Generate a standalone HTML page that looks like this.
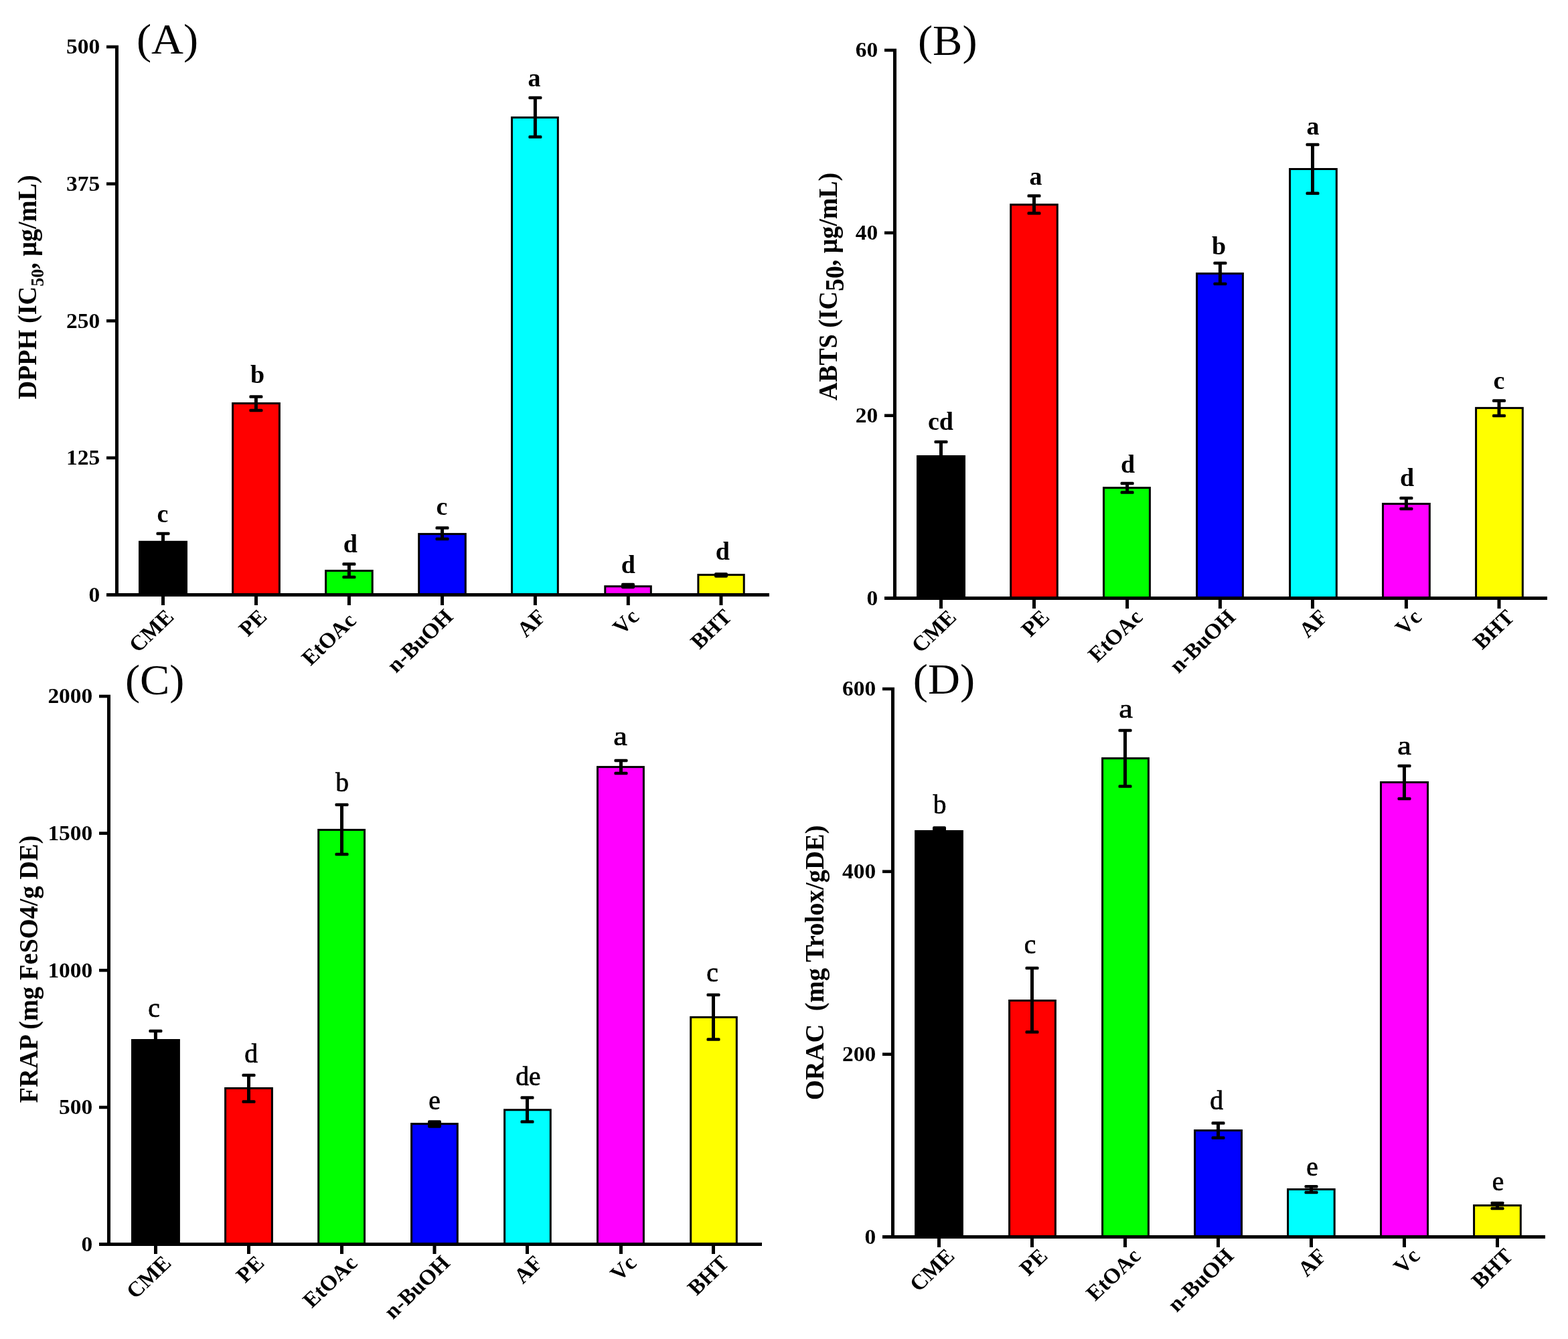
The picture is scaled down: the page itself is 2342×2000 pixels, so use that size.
<!DOCTYPE html>
<html><head><meta charset="utf-8"><title>Antioxidant activity bar charts</title>
<style>
html,body{margin:0;padding:0;background:#fff;}
svg{display:block;}
text{font-family:'Liberation Serif','Times New Roman',serif;fill:#000;}
.tk{font-size:32px;font-weight:bold;}
.xl{font-size:32px;font-weight:bold;}
.lb{font-size:38px;font-weight:bold;}
.lr{font-size:39.5px;font-weight:normal;stroke:#000;stroke-width:0.7px;}
.pl{font-size:63px;font-weight:normal;}
.tt{font-size:38.3px;font-weight:bold;white-space:pre;}
</style></head>
<body>
<svg width="2342" height="2000" viewBox="0 0 2342 2000">
<rect width="2342" height="2000" fill="#fff"/>
<rect x="207" y="807.8" width="73" height="78.7" fill="#000"/>
<rect x="346.1" y="601" width="72.8" height="285.5" fill="#000"/>
<rect x="349.1" y="604" width="66.8" height="282.5" fill="#FF0000"/>
<rect x="485.1" y="851" width="72.6" height="35.5" fill="#000"/>
<rect x="488.1" y="854" width="66.6" height="32.5" fill="#00FF00"/>
<rect x="624.2" y="796.1" width="72.6" height="90.4" fill="#000"/>
<rect x="627.2" y="799.1" width="66.6" height="87.4" fill="#0000FF"/>
<rect x="763" y="174" width="71.8" height="712.5" fill="#000"/>
<rect x="766" y="177" width="65.8" height="709.5" fill="#00FFFF"/>
<rect x="902.3" y="874.3" width="71.5" height="12.2" fill="#000"/>
<rect x="905.3" y="877.3" width="65.5" height="9.2" fill="#FF00FF"/>
<rect x="1041.4" y="857.1" width="71.3" height="29.4" fill="#000"/>
<rect x="1044.4" y="860.1" width="65.3" height="26.4" fill="#FFFF00"/>
<rect x="241" y="796.9" width="5" height="21.8" fill="#000"/>
<rect x="233.5" y="794.65" width="20" height="4.5" rx="1.5" fill="#000"/>
<rect x="233.5" y="816.45" width="20" height="4.5" rx="1.5" fill="#000"/>
<rect x="379.9" y="592.5" width="5" height="20.5" fill="#000"/>
<rect x="372.4" y="590.25" width="20" height="4.5" rx="1.5" fill="#000"/>
<rect x="372.4" y="610.75" width="20" height="4.5" rx="1.5" fill="#000"/>
<rect x="518.9" y="842.4" width="5" height="19.6" fill="#000"/>
<rect x="511.4" y="840.15" width="20" height="4.5" rx="1.5" fill="#000"/>
<rect x="511.4" y="859.75" width="20" height="4.5" rx="1.5" fill="#000"/>
<rect x="658" y="788.4" width="5" height="16.6" fill="#000"/>
<rect x="650.5" y="786.15" width="20" height="4.5" rx="1.5" fill="#000"/>
<rect x="650.5" y="802.75" width="20" height="4.5" rx="1.5" fill="#000"/>
<rect x="796.9" y="145.9" width="5" height="58.5" fill="#000"/>
<rect x="789.4" y="143.65" width="20" height="4.5" rx="1.5" fill="#000"/>
<rect x="789.4" y="202.15" width="20" height="4.5" rx="1.5" fill="#000"/>
<rect x="928" y="870.75" width="20" height="8.5" rx="2" fill="#000"/>
<rect x="1067" y="855.25" width="20" height="7.5" rx="2" fill="#000"/>
<rect x="172" y="68" width="5" height="823" fill="#000"/>
<rect x="159" y="886" width="990" height="5" fill="#000"/>
<rect x="159" y="67.7" width="18" height="4.6" fill="#000"/>
<text transform="translate(149.2 80.48) scale(1.046 1)" text-anchor="end" class="tk">500</text>
<rect x="159" y="272.3" width="18" height="4.6" fill="#000"/>
<text transform="translate(149.2 285.08) scale(1.046 1)" text-anchor="end" class="tk">375</text>
<rect x="159" y="476.95" width="18" height="4.6" fill="#000"/>
<text transform="translate(149.2 489.73) scale(1.046 1)" text-anchor="end" class="tk">250</text>
<rect x="159" y="681.6" width="18" height="4.6" fill="#000"/>
<text transform="translate(149.2 694.38) scale(1.046 1)" text-anchor="end" class="tk">125</text>
<rect x="159" y="886.2" width="18" height="4.6" fill="#000"/>
<text transform="translate(149.2 898.98) scale(1.046 1)" text-anchor="end" class="tk">0</text>
<rect x="241" y="890.5" width="5" height="13.5" fill="#000"/>
<text transform="translate(261.5 923.2) scale(1.047 1) rotate(-45)" text-anchor="end" class="xl">CME</text>
<rect x="380" y="890.5" width="5" height="13.5" fill="#000"/>
<text transform="translate(400.5 923.2) scale(1.047 1) rotate(-45)" text-anchor="end" class="xl">PE</text>
<rect x="518.9" y="890.5" width="5" height="13.5" fill="#000"/>
<text transform="translate(533.74 928.86) scale(1.047 1) rotate(-45)" text-anchor="end" class="xl">EtOAc</text>
<rect x="658" y="890.5" width="5" height="13.5" fill="#000"/>
<text transform="translate(678.5 923.2) scale(1.047 1) rotate(-45)" text-anchor="end" class="xl">n-BuOH</text>
<rect x="796.9" y="890.5" width="5" height="13.5" fill="#000"/>
<text transform="translate(817.4 923.2) scale(1.047 1) rotate(-45)" text-anchor="end" class="xl">AF</text>
<rect x="935.8" y="890.5" width="5" height="13.5" fill="#000"/>
<text transform="translate(956.3 923.2) scale(1.047 1) rotate(-45)" text-anchor="end" class="xl">Vc</text>
<rect x="1074.5" y="890.5" width="5" height="13.5" fill="#000"/>
<text transform="translate(1095 923.2) scale(1.047 1) rotate(-45)" text-anchor="end" class="xl">BHT</text>
<text x="243" y="779.5" text-anchor="middle" class="lb">c</text>
<text x="384.5" y="571.8" text-anchor="middle" class="lb">b</text>
<text x="523.2" y="824.7" text-anchor="middle" class="lb">d</text>
<text x="660" y="768.7" text-anchor="middle" class="lb">c</text>
<text x="797.9" y="128.7" text-anchor="middle" class="lb">a</text>
<text x="938.3" y="855.8" text-anchor="middle" class="lb">d</text>
<text x="1079.3" y="836.3" text-anchor="middle" class="lb">d</text>
<text transform="translate(203.98 79.9) scale(1.055 1)" class="pl">(A)</text>
<rect x="1369" y="680" width="73" height="211.5" fill="#000"/>
<rect x="1508.2" y="304.2" width="72.6" height="587.3" fill="#000"/>
<rect x="1511.2" y="307.2" width="66.6" height="584.3" fill="#FF0000"/>
<rect x="1647" y="727.1" width="71.9" height="164.4" fill="#000"/>
<rect x="1650" y="730.1" width="65.9" height="161.4" fill="#00FF00"/>
<rect x="1786.1" y="407.1" width="71.8" height="484.4" fill="#000"/>
<rect x="1789.1" y="410.1" width="65.8" height="481.4" fill="#0000FF"/>
<rect x="1925.1" y="251" width="72.7" height="640.5" fill="#000"/>
<rect x="1928.1" y="254" width="66.7" height="637.5" fill="#00FFFF"/>
<rect x="2064" y="751" width="72.8" height="140.5" fill="#000"/>
<rect x="2067" y="754" width="66.8" height="137.5" fill="#FF00FF"/>
<rect x="2203.1" y="607.9" width="72.7" height="283.6" fill="#000"/>
<rect x="2206.1" y="610.9" width="66.7" height="280.6" fill="#FFFF00"/>
<rect x="1403" y="659.9" width="5" height="40.2" fill="#000"/>
<rect x="1395.5" y="657.65" width="20" height="4.5" rx="1.5" fill="#000"/>
<rect x="1395.5" y="697.85" width="20" height="4.5" rx="1.5" fill="#000"/>
<rect x="1542" y="292.4" width="5" height="26" fill="#000"/>
<rect x="1534.5" y="290.15" width="20" height="4.5" rx="1.5" fill="#000"/>
<rect x="1534.5" y="316.15" width="20" height="4.5" rx="1.5" fill="#000"/>
<rect x="1681.1" y="721.9" width="5" height="13.5" fill="#000"/>
<rect x="1673.6" y="719.65" width="20" height="4.5" rx="1.5" fill="#000"/>
<rect x="1673.6" y="733.15" width="20" height="4.5" rx="1.5" fill="#000"/>
<rect x="1819.9" y="393" width="5" height="31" fill="#000"/>
<rect x="1812.4" y="390.75" width="20" height="4.5" rx="1.5" fill="#000"/>
<rect x="1812.4" y="421.75" width="20" height="4.5" rx="1.5" fill="#000"/>
<rect x="1958" y="216" width="5" height="72.8" fill="#000"/>
<rect x="1950.5" y="213.75" width="20" height="4.5" rx="1.5" fill="#000"/>
<rect x="1950.5" y="286.55" width="20" height="4.5" rx="1.5" fill="#000"/>
<rect x="2097.9" y="744" width="5" height="16" fill="#000"/>
<rect x="2090.4" y="741.75" width="20" height="4.5" rx="1.5" fill="#000"/>
<rect x="2090.4" y="757.75" width="20" height="4.5" rx="1.5" fill="#000"/>
<rect x="2236.5" y="598.5" width="5" height="22.5" fill="#000"/>
<rect x="2229" y="596.25" width="20" height="4.5" rx="1.5" fill="#000"/>
<rect x="2229" y="618.75" width="20" height="4.5" rx="1.5" fill="#000"/>
<rect x="1334" y="73" width="5" height="823" fill="#000"/>
<rect x="1321" y="891" width="990" height="5" fill="#000"/>
<rect x="1321" y="72.7" width="18" height="4.6" fill="#000"/>
<text transform="translate(1311.2 85.48) scale(1.046 1)" text-anchor="end" class="tk">60</text>
<rect x="1321" y="345.5" width="18" height="4.6" fill="#000"/>
<text transform="translate(1311.2 358.28) scale(1.046 1)" text-anchor="end" class="tk">40</text>
<rect x="1321" y="618.4" width="18" height="4.6" fill="#000"/>
<text transform="translate(1311.2 631.18) scale(1.046 1)" text-anchor="end" class="tk">20</text>
<rect x="1321" y="891.2" width="18" height="4.6" fill="#000"/>
<text transform="translate(1311.2 903.98) scale(1.046 1)" text-anchor="end" class="tk">0</text>
<rect x="1403" y="895.5" width="5" height="13.5" fill="#000"/>
<text transform="translate(1430.3 923.8) scale(1.047 1) rotate(-45)" text-anchor="end" class="xl">CME</text>
<rect x="1542" y="895.5" width="5" height="13.5" fill="#000"/>
<text transform="translate(1569.3 923.8) scale(1.047 1) rotate(-45)" text-anchor="end" class="xl">PE</text>
<rect x="1681.1" y="895.5" width="5" height="13.5" fill="#000"/>
<text transform="translate(1708.4 923.8) scale(1.047 1) rotate(-45)" text-anchor="end" class="xl">EtOAc</text>
<rect x="1819.9" y="895.5" width="5" height="13.5" fill="#000"/>
<text transform="translate(1847.2 923.8) scale(1.047 1) rotate(-45)" text-anchor="end" class="xl">n-BuOH</text>
<rect x="1958" y="895.5" width="5" height="13.5" fill="#000"/>
<text transform="translate(1985.3 923.8) scale(1.047 1) rotate(-45)" text-anchor="end" class="xl">AF</text>
<rect x="2097.9" y="895.5" width="5" height="13.5" fill="#000"/>
<text transform="translate(2125.2 923.8) scale(1.047 1) rotate(-45)" text-anchor="end" class="xl">Vc</text>
<rect x="2236.5" y="895.5" width="5" height="13.5" fill="#000"/>
<text transform="translate(2263.8 923.8) scale(1.047 1) rotate(-45)" text-anchor="end" class="xl">BHT</text>
<text x="1405" y="641.7" text-anchor="middle" class="lb">cd</text>
<text x="1547" y="275.7" text-anchor="middle" class="lb">a</text>
<text x="1684.6" y="705.7" text-anchor="middle" class="lb">d</text>
<text x="1820.5" y="379.7" text-anchor="middle" class="lb">b</text>
<text x="1961" y="200.7" text-anchor="middle" class="lb">a</text>
<text x="2101.5" y="725.7" text-anchor="middle" class="lb">d</text>
<text x="2239" y="580.7" text-anchor="middle" class="lb">c</text>
<text transform="translate(1370.98 81.9) scale(1.055 1)" class="pl">(B)</text>
<rect x="196" y="1552" width="72.9" height="304.5" fill="#000"/>
<rect x="335.1" y="1624" width="72.8" height="232.5" fill="#000"/>
<rect x="338.1" y="1627" width="66.8" height="229.5" fill="#FF0000"/>
<rect x="474.2" y="1238" width="71.8" height="618.5" fill="#000"/>
<rect x="477.2" y="1241" width="65.8" height="615.5" fill="#00FF00"/>
<rect x="613.1" y="1677.1" width="71.7" height="179.4" fill="#000"/>
<rect x="616.1" y="1680.1" width="65.7" height="176.4" fill="#0000FF"/>
<rect x="752.1" y="1656.3" width="71.7" height="200.2" fill="#000"/>
<rect x="755.1" y="1659.3" width="65.7" height="197.2" fill="#00FFFF"/>
<rect x="891" y="1144.1" width="71.9" height="712.4" fill="#000"/>
<rect x="894" y="1147.1" width="65.9" height="709.4" fill="#FF00FF"/>
<rect x="1030.2" y="1517.9" width="71.6" height="338.6" fill="#000"/>
<rect x="1033.2" y="1520.9" width="65.6" height="335.6" fill="#FFFF00"/>
<rect x="229.9" y="1539.9" width="5" height="24.2" fill="#000"/>
<rect x="222.4" y="1537.65" width="20" height="4.5" rx="1.5" fill="#000"/>
<rect x="222.4" y="1561.85" width="20" height="4.5" rx="1.5" fill="#000"/>
<rect x="369" y="1606" width="5" height="39.5" fill="#000"/>
<rect x="361.5" y="1603.75" width="20" height="4.5" rx="1.5" fill="#000"/>
<rect x="361.5" y="1643.25" width="20" height="4.5" rx="1.5" fill="#000"/>
<rect x="508" y="1202" width="5" height="74" fill="#000"/>
<rect x="500.5" y="1199.75" width="20" height="4.5" rx="1.5" fill="#000"/>
<rect x="500.5" y="1273.75" width="20" height="4.5" rx="1.5" fill="#000"/>
<rect x="639" y="1673.25" width="20" height="11.5" rx="2" fill="#000"/>
<rect x="785" y="1639.4" width="5" height="36.1" fill="#000"/>
<rect x="777.5" y="1637.15" width="20" height="4.5" rx="1.5" fill="#000"/>
<rect x="777.5" y="1673.25" width="20" height="4.5" rx="1.5" fill="#000"/>
<rect x="925" y="1136" width="5" height="19" fill="#000"/>
<rect x="917.5" y="1133.75" width="20" height="4.5" rx="1.5" fill="#000"/>
<rect x="917.5" y="1152.75" width="20" height="4.5" rx="1.5" fill="#000"/>
<rect x="1063" y="1486" width="5" height="66.5" fill="#000"/>
<rect x="1055.5" y="1483.75" width="20" height="4.5" rx="1.5" fill="#000"/>
<rect x="1055.5" y="1550.25" width="20" height="4.5" rx="1.5" fill="#000"/>
<rect x="160" y="1038" width="5" height="823" fill="#000"/>
<rect x="148" y="1856" width="990" height="5" fill="#000"/>
<rect x="148" y="1037.7" width="17" height="4.6" fill="#000"/>
<text transform="translate(138.3 1050.48) scale(1.046 1)" text-anchor="end" class="tk">2000</text>
<rect x="148" y="1242.35" width="17" height="4.6" fill="#000"/>
<text transform="translate(138.3 1255.13) scale(1.046 1)" text-anchor="end" class="tk">1500</text>
<rect x="148" y="1447" width="17" height="4.6" fill="#000"/>
<text transform="translate(138.3 1459.78) scale(1.046 1)" text-anchor="end" class="tk">1000</text>
<rect x="148" y="1651.65" width="17" height="4.6" fill="#000"/>
<text transform="translate(138.3 1664.43) scale(1.046 1)" text-anchor="end" class="tk">500</text>
<rect x="148" y="1856.3" width="17" height="4.6" fill="#000"/>
<text transform="translate(138.3 1869.08) scale(1.046 1)" text-anchor="end" class="tk">0</text>
<rect x="230" y="1860.5" width="5" height="12.5" fill="#000"/>
<text transform="translate(257.5 1888.5) scale(1.047 1) rotate(-45)" text-anchor="end" class="xl">CME</text>
<rect x="369" y="1860.5" width="5" height="12.5" fill="#000"/>
<text transform="translate(396.5 1888.5) scale(1.047 1) rotate(-45)" text-anchor="end" class="xl">PE</text>
<rect x="508" y="1860.5" width="5" height="12.5" fill="#000"/>
<text transform="translate(535.5 1888.5) scale(1.047 1) rotate(-45)" text-anchor="end" class="xl">EtOAc</text>
<rect x="646.5" y="1860.5" width="5" height="12.5" fill="#000"/>
<text transform="translate(674 1888.5) scale(1.047 1) rotate(-45)" text-anchor="end" class="xl">n-BuOH</text>
<rect x="785" y="1860.5" width="5" height="12.5" fill="#000"/>
<text transform="translate(812.5 1888.5) scale(1.047 1) rotate(-45)" text-anchor="end" class="xl">AF</text>
<rect x="925" y="1860.5" width="5" height="12.5" fill="#000"/>
<text transform="translate(952.5 1888.5) scale(1.047 1) rotate(-45)" text-anchor="end" class="xl">Vc</text>
<rect x="1063" y="1860.5" width="5" height="12.5" fill="#000"/>
<text transform="translate(1090.5 1888.5) scale(1.047 1) rotate(-45)" text-anchor="end" class="xl">BHT</text>
<text x="230" y="1518.5" text-anchor="middle" class="lr">c</text>
<text x="375" y="1586.7" text-anchor="middle" class="lr">d</text>
<text x="511" y="1181.5" text-anchor="middle" class="lr">b</text>
<text x="649" y="1656.5" text-anchor="middle" class="lr">e</text>
<text x="788.9" y="1621" text-anchor="middle" class="lr">de</text>
<text transform="translate(926.5 1113) scale(1.18 1)" text-anchor="middle" class="lr">a</text>
<text x="1064" y="1465.5" text-anchor="middle" class="lr">c</text>
<text transform="translate(186.88 1036.6) scale(1.055 1)" class="pl">(C)</text>
<rect x="1366.1" y="1240" width="72.8" height="605.5" fill="#000"/>
<rect x="1506.1" y="1493" width="71.8" height="352.5" fill="#000"/>
<rect x="1509.1" y="1496" width="65.8" height="349.5" fill="#FF0000"/>
<rect x="1645.1" y="1131.2" width="71.8" height="714.3" fill="#000"/>
<rect x="1648.1" y="1134.2" width="65.8" height="711.3" fill="#00FF00"/>
<rect x="1783.1" y="1687" width="72.9" height="158.5" fill="#000"/>
<rect x="1786.1" y="1690" width="66.9" height="155.5" fill="#0000FF"/>
<rect x="1922.1" y="1775" width="72.6" height="70.5" fill="#000"/>
<rect x="1925.1" y="1778" width="66.6" height="67.5" fill="#00FFFF"/>
<rect x="2061" y="1167" width="73" height="678.5" fill="#000"/>
<rect x="2064" y="1170" width="67" height="675.5" fill="#FF00FF"/>
<rect x="2200.1" y="1799" width="72.7" height="46.5" fill="#000"/>
<rect x="2203.1" y="1802" width="66.7" height="43.5" fill="#FFFF00"/>
<rect x="1393" y="1234.15" width="20" height="11.7" rx="2" fill="#000"/>
<rect x="1539" y="1446" width="5" height="95.4" fill="#000"/>
<rect x="1531.5" y="1443.75" width="20" height="4.5" rx="1.5" fill="#000"/>
<rect x="1531.5" y="1539.15" width="20" height="4.5" rx="1.5" fill="#000"/>
<rect x="1678" y="1091" width="5" height="83.6" fill="#000"/>
<rect x="1670.5" y="1088.75" width="20" height="4.5" rx="1.5" fill="#000"/>
<rect x="1670.5" y="1172.35" width="20" height="4.5" rx="1.5" fill="#000"/>
<rect x="1817" y="1677.6" width="5" height="21.9" fill="#000"/>
<rect x="1809.5" y="1675.35" width="20" height="4.5" rx="1.5" fill="#000"/>
<rect x="1809.5" y="1697.25" width="20" height="4.5" rx="1.5" fill="#000"/>
<rect x="1956" y="1772.2" width="5" height="8.8" fill="#000"/>
<rect x="1948.5" y="1769.95" width="20" height="4.5" rx="1.5" fill="#000"/>
<rect x="1948.5" y="1778.75" width="20" height="4.5" rx="1.5" fill="#000"/>
<rect x="2095" y="1144" width="5" height="49" fill="#000"/>
<rect x="2087.5" y="1141.75" width="20" height="4.5" rx="1.5" fill="#000"/>
<rect x="2087.5" y="1190.75" width="20" height="4.5" rx="1.5" fill="#000"/>
<rect x="2234" y="1796.9" width="5" height="8.1" fill="#000"/>
<rect x="2226.5" y="1794.65" width="20" height="4.5" rx="1.5" fill="#000"/>
<rect x="2226.5" y="1802.75" width="20" height="4.5" rx="1.5" fill="#000"/>
<rect x="1331" y="1027" width="5" height="823" fill="#000"/>
<rect x="1318" y="1845" width="990" height="5" fill="#000"/>
<rect x="1318" y="1026.7" width="18" height="4.6" fill="#000"/>
<text transform="translate(1308.2 1039.48) scale(1.046 1)" text-anchor="end" class="tk">600</text>
<rect x="1318" y="1299.5" width="18" height="4.6" fill="#000"/>
<text transform="translate(1308.2 1312.28) scale(1.046 1)" text-anchor="end" class="tk">400</text>
<rect x="1318" y="1572.4" width="18" height="4.6" fill="#000"/>
<text transform="translate(1308.2 1585.18) scale(1.046 1)" text-anchor="end" class="tk">200</text>
<rect x="1318" y="1845.2" width="18" height="4.6" fill="#000"/>
<text transform="translate(1308.2 1857.98) scale(1.046 1)" text-anchor="end" class="tk">0</text>
<rect x="1400" y="1849.5" width="5" height="13.5" fill="#000"/>
<text transform="translate(1427.5 1878) scale(1.047 1) rotate(-45)" text-anchor="end" class="xl">CME</text>
<rect x="1539" y="1849.5" width="5" height="13.5" fill="#000"/>
<text transform="translate(1566.5 1878) scale(1.047 1) rotate(-45)" text-anchor="end" class="xl">PE</text>
<rect x="1678" y="1849.5" width="5" height="13.5" fill="#000"/>
<text transform="translate(1705.5 1878) scale(1.047 1) rotate(-45)" text-anchor="end" class="xl">EtOAc</text>
<rect x="1817" y="1849.5" width="5" height="13.5" fill="#000"/>
<text transform="translate(1844.5 1878) scale(1.047 1) rotate(-45)" text-anchor="end" class="xl">n-BuOH</text>
<rect x="1956" y="1849.5" width="5" height="13.5" fill="#000"/>
<text transform="translate(1983.5 1878) scale(1.047 1) rotate(-45)" text-anchor="end" class="xl">AF</text>
<rect x="2095" y="1849.5" width="5" height="13.5" fill="#000"/>
<text transform="translate(2122.5 1878) scale(1.047 1) rotate(-45)" text-anchor="end" class="xl">Vc</text>
<rect x="2234" y="1849.5" width="5" height="13.5" fill="#000"/>
<text transform="translate(2261.5 1878) scale(1.047 1) rotate(-45)" text-anchor="end" class="xl">BHT</text>
<text x="1403.5" y="1215" text-anchor="middle" class="lr">b</text>
<text x="1538.5" y="1423.5" text-anchor="middle" class="lr">c</text>
<text transform="translate(1681.5 1071.5) scale(1.18 1)" text-anchor="middle" class="lr">a</text>
<text x="1817" y="1656.9" text-anchor="middle" class="lr">d</text>
<text x="1960" y="1755.5" text-anchor="middle" class="lr">e</text>
<text transform="translate(2097.5 1127) scale(1.18 1)" text-anchor="middle" class="lr">a</text>
<text x="2237.5" y="1777.5" text-anchor="middle" class="lr">e</text>
<text transform="translate(1363.78 1035.9) scale(1.055 1)" class="pl">(D)</text>
<text transform="translate(54 596.6) scale(1.045 1) rotate(-90)" class="tt" style="font-size:38.24px">DPPH (IC<tspan style="font-size:26px" dy="10.6">50</tspan><tspan dy="-10.6">, μg/mL)</tspan></text>
<text transform="translate(1249.8 598.2) scale(1.045 1) rotate(-90)" class="tt" style="font-size:37.9px">ABTS (IC<tspan dy="9.3">50</tspan><tspan dy="-9.3">, μg/mL)</tspan></text>
<text transform="translate(55.8 1647.5) scale(1.045 1) rotate(-90)" class="tt" style="font-size:38.4px">FRAP (mg FeSO4/g DE)</text>
<text transform="translate(1229.9 1643.2) scale(1.045 1) rotate(-90)" class="tt" style="font-size:38.6px">ORAC  (mg Trolox/gDE)</text>
</svg>
</body></html>
